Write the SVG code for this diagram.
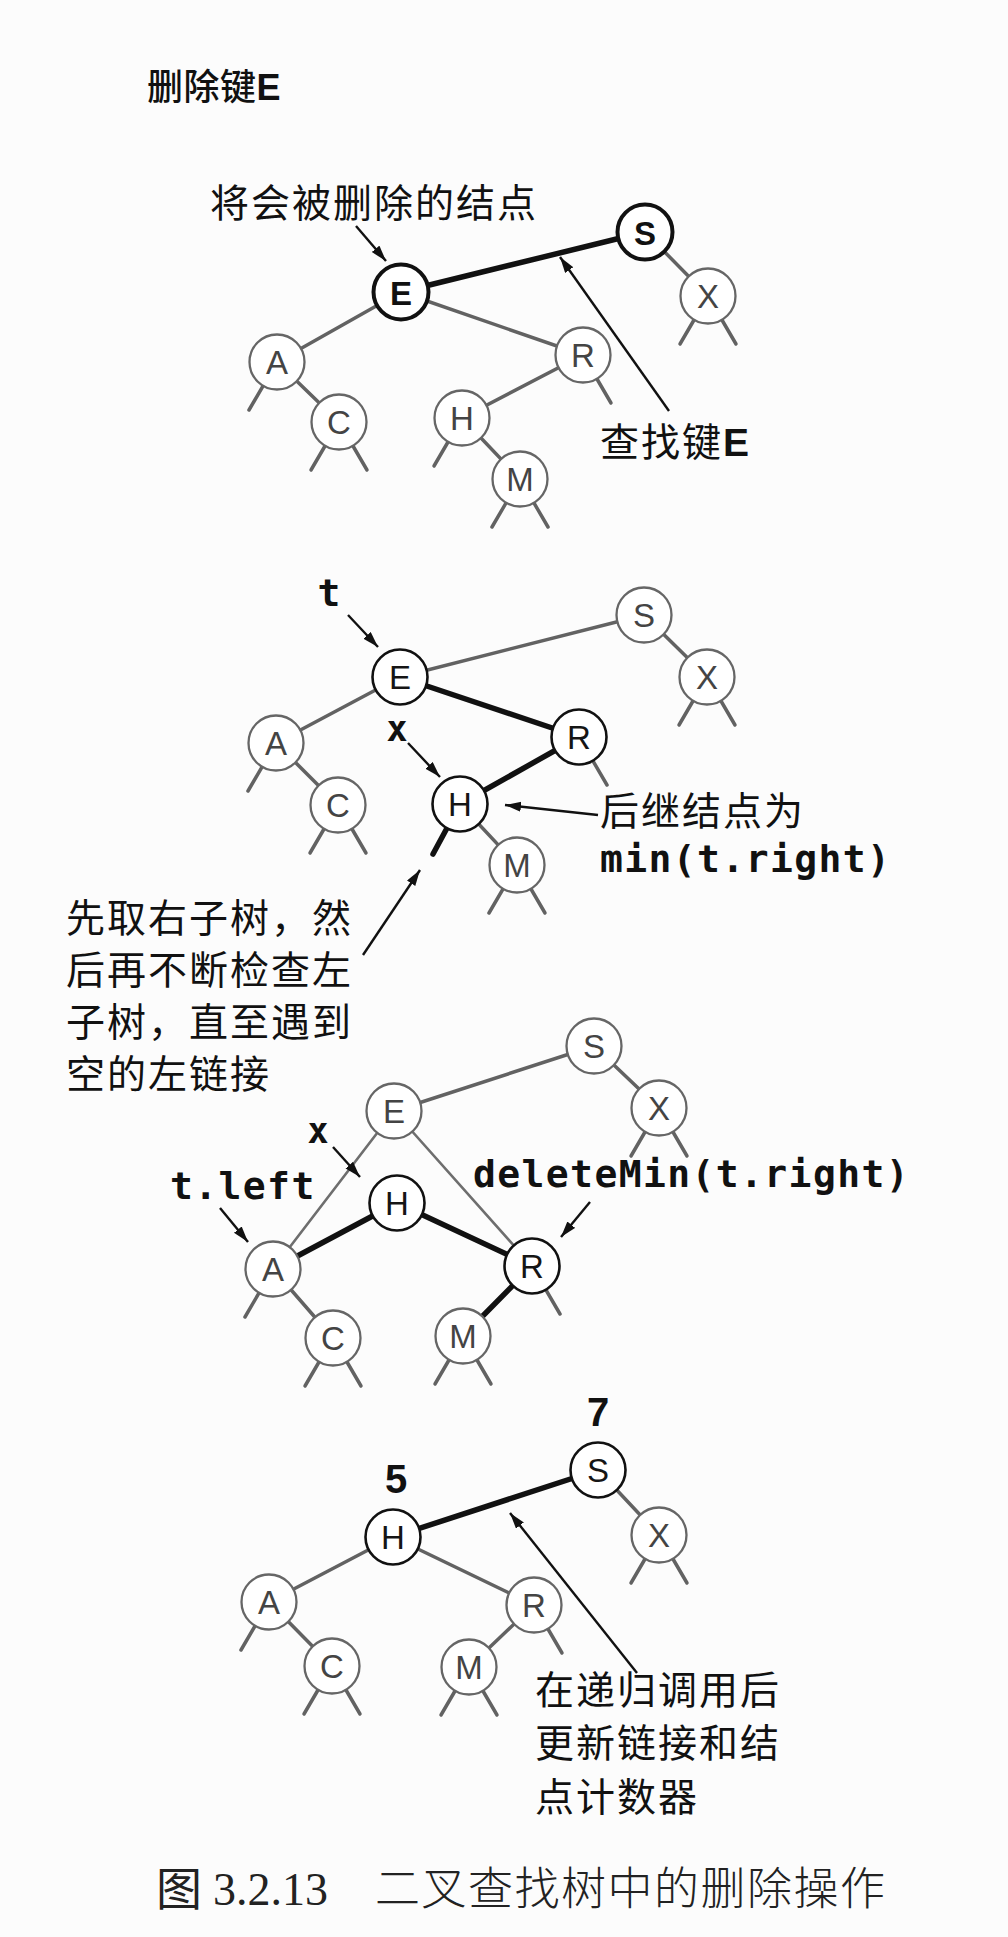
<svg xmlns="http://www.w3.org/2000/svg" width="1008" height="1937" viewBox="0 0 1008 1937">
<style>
.cjk{font-family:"Noto Sans CJK SC","Noto Sans",sans-serif;font-size:39px;letter-spacing:2px;fill:#111}
.mono{font-family:"DejaVu Sans Mono","Liberation Mono",monospace;font-weight:bold;font-size:38px;letter-spacing:1.4px;fill:#111}
.num{font-family:"Liberation Sans",Arial,sans-serif;font-weight:bold;font-size:40px;fill:#111;text-anchor:middle}
.bE{font-family:"Liberation Sans",Arial,sans-serif;font-weight:bold;letter-spacing:0}
.cap{font-family:"Liberation Serif","Noto Sans CJK SC",serif;font-size:46px;fill:#222}
.capc{font-family:"Noto Sans CJK SC",serif;font-weight:300;font-size:45px;letter-spacing:1.5px;fill:#222}
.g{stroke:#626262;stroke-width:3.5;stroke-linecap:round;fill:none}
.gt{stroke:#6e6e6e;stroke-width:2.6;stroke-linecap:round;fill:none}
.k{stroke:#111;stroke-width:5.5;stroke-linecap:round;fill:none}
.ar{stroke:#111;stroke-width:2.4;fill:none;marker-end:url(#ah)}
.ng circle{fill:#fff;stroke:#666;stroke-width:2.3}
.ng text{fill:#444}
.nk circle{fill:#fff;stroke:#111;stroke-width:2.6}
.nk text{fill:#151515}
.nb circle{fill:#fff;stroke:#111;stroke-width:4}
.nb text{fill:#111;font-weight:bold;font-size:36px}
.node text{font-family:"Liberation Sans",Arial,sans-serif;font-size:33px;text-anchor:middle}
</style>
<defs>
<marker id="ah" markerUnits="userSpaceOnUse" markerWidth="18" markerHeight="12" refX="16" refY="5" orient="auto">
<path d="M0,0 L16,5 L0,10 Z" fill="#111"/>
</marker>
</defs>
<rect width="1008" height="1937" fill="#fcfcfc"/>

<!-- ============ Panel 1 ============ -->
<text class="cjk" x="147" y="100" style="font-size:36px;letter-spacing:0.5px;font-weight:500">删除键<tspan class="bE">E</tspan></text>
<text class="cjk" x="210" y="217">将会被删除的结点</text>
<text class="cjk" x="600" y="456">查找键<tspan class="bE">E</tspan></text>

<g id="connectors-1">
<line class="k" x1="401" y1="292" x2="645" y2="232"/>
<line class="g" x1="401" y1="292" x2="277" y2="362"/>
<line class="g" x1="401" y1="292" x2="583" y2="355"/>
<line class="g" x1="277" y1="362" x2="339" y2="422"/>
<line class="g" x1="583" y1="355" x2="462" y2="418"/>
<line class="g" x1="462" y1="418" x2="520" y2="479"/>
<line class="g" x1="645" y1="232" x2="708" y2="296"/>
<line class="g" x1="277" y1="362" x2="249" y2="410"/>
<line class="g" x1="339" y1="422" x2="311" y2="470"/>
<line class="g" x1="339" y1="422" x2="367" y2="470"/>
<line class="g" x1="462" y1="418" x2="434" y2="466"/>
<line class="g" x1="583" y1="355" x2="611" y2="403"/>
<line class="g" x1="520" y1="479" x2="492" y2="527"/>
<line class="g" x1="520" y1="479" x2="548" y2="527"/>
<line class="g" x1="708" y1="296" x2="680" y2="344"/>
<line class="g" x1="708" y1="296" x2="736" y2="344"/>
<line class="ar" x1="356" y1="226" x2="386" y2="261"/>
<line class="ar" x1="669" y1="411" x2="560" y2="257"/>
</g>
<g id="p1-E" class="node nb"><circle cx="401" cy="292" r="27.5"/><text x="401" y="305">E</text></g>
<g id="p1-S" class="node nb"><circle cx="645" cy="232" r="27.5"/><text x="645" y="245">S</text></g>
<g id="p1-X" class="node ng"><circle cx="708" cy="296" r="27.5"/><text x="708" y="308">X</text></g>
<g id="p1-A" class="node ng"><circle cx="277" cy="362" r="27.5"/><text x="277" y="374">A</text></g>
<g id="p1-C" class="node ng"><circle cx="339" cy="422" r="27.5"/><text x="339" y="434">C</text></g>
<g id="p1-R" class="node ng"><circle cx="583" cy="355" r="27.5"/><text x="583" y="367">R</text></g>
<g id="p1-H" class="node ng"><circle cx="462" cy="418" r="27.5"/><text x="462" y="430">H</text></g>
<g id="p1-M" class="node ng"><circle cx="520" cy="479" r="27.5"/><text x="520" y="491">M</text></g>

<!-- ============ Panel 2 ============ -->
<text class="mono" x="329" y="606" text-anchor="middle" style="letter-spacing:0">t</text>
<text class="mono" x="397" y="741" text-anchor="middle" style="letter-spacing:0;font-size:35px">x</text>
<text class="cjk" x="600" y="825">后继结点为</text>
<text class="mono" x="600" y="872">min(t.right)</text>
<text class="cjk" x="66" y="932">先取右子树，然</text>
<text class="cjk" x="66" y="984">后再不断检查左</text>
<text class="cjk" x="66" y="1036">子树，直至遇到</text>
<text class="cjk" x="66" y="1088">空的左链接</text>

<g id="connectors-2">
<line class="g" x1="400" y1="677" x2="644" y2="615"/>
<line class="g" x1="400" y1="677" x2="276" y2="743"/>
<line class="k" x1="400" y1="677" x2="579" y2="737"/>
<line class="k" x1="579" y1="737" x2="460" y2="804"/>
<line class="g" x1="460" y1="804" x2="517" y2="865"/>
<line class="g" x1="276" y1="743" x2="338" y2="805"/>
<line class="g" x1="644" y1="615" x2="707" y2="677"/>
<line class="g" x1="276" y1="743" x2="248" y2="791"/>
<line class="g" x1="338" y1="805" x2="310" y2="853"/>
<line class="g" x1="338" y1="805" x2="366" y2="853"/>
<line class="k" x1="460" y1="804" x2="433" y2="854"/>
<line class="g" x1="579" y1="737" x2="607" y2="785"/>
<line class="g" x1="517" y1="865" x2="489" y2="913"/>
<line class="g" x1="517" y1="865" x2="545" y2="913"/>
<line class="g" x1="707" y1="677" x2="679" y2="725"/>
<line class="g" x1="707" y1="677" x2="735" y2="725"/>
<line class="ar" x1="348" y1="615" x2="378" y2="647"/>
<line class="ar" x1="408" y1="743" x2="440" y2="777"/>
<line class="ar" x1="598" y1="815" x2="505" y2="805"/>
<line class="ar" x1="363" y1="955" x2="420" y2="870"/>
</g>
<g id="p2-E" class="node nk"><circle cx="400" cy="677" r="27.5"/><text x="400" y="689">E</text></g>
<g id="p2-S" class="node ng"><circle cx="644" cy="615" r="27.5"/><text x="644" y="627">S</text></g>
<g id="p2-X" class="node ng"><circle cx="707" cy="677" r="27.5"/><text x="707" y="689">X</text></g>
<g id="p2-A" class="node ng"><circle cx="276" cy="743" r="27.5"/><text x="276" y="755">A</text></g>
<g id="p2-C" class="node ng"><circle cx="338" cy="805" r="27.5"/><text x="338" y="817">C</text></g>
<g id="p2-R" class="node nk"><circle cx="579" cy="737" r="27.5"/><text x="579" y="749">R</text></g>
<g id="p2-H" class="node nk"><circle cx="460" cy="804" r="27.5"/><text x="460" y="816">H</text></g>
<g id="p2-M" class="node ng"><circle cx="517" cy="865" r="27.5"/><text x="517" y="877">M</text></g>

<!-- ============ Panel 3 ============ -->
<text class="mono" x="318" y="1143" text-anchor="middle" style="letter-spacing:0;font-size:35px">x</text>
<text class="mono" x="170" y="1199">t.left</text>
<text class="mono" x="473" y="1187">deleteMin(t.right)</text>

<g id="connectors-3">
<line class="g" x1="394" y1="1111" x2="594" y2="1046"/>
<line class="gt" x1="394" y1="1111" x2="273" y2="1269"/>
<line class="gt" x1="394" y1="1111" x2="532" y2="1266"/>
<line class="k" x1="273" y1="1269" x2="397" y2="1203"/>
<line class="k" x1="397" y1="1203" x2="532" y2="1266"/>
<line class="k" x1="532" y1="1266" x2="463" y2="1336"/>
<line class="g" x1="273" y1="1269" x2="333" y2="1338"/>
<line class="g" x1="594" y1="1046" x2="659" y2="1108"/>
<line class="g" x1="273" y1="1269" x2="245" y2="1317"/>
<line class="g" x1="333" y1="1338" x2="305" y2="1386"/>
<line class="g" x1="333" y1="1338" x2="361" y2="1386"/>
<line class="g" x1="463" y1="1336" x2="435" y2="1384"/>
<line class="g" x1="463" y1="1336" x2="491" y2="1384"/>
<line class="g" x1="532" y1="1266" x2="560" y2="1314"/>
<line class="g" x1="659" y1="1108" x2="631" y2="1156"/>
<line class="g" x1="659" y1="1108" x2="687" y2="1156"/>
<line class="ar" x1="333" y1="1147" x2="360" y2="1177"/>
<line class="ar" x1="220" y1="1208" x2="248" y2="1242"/>
<line class="ar" x1="590" y1="1202" x2="561" y2="1237"/>
</g>
<g id="p3-S" class="node ng"><circle cx="594" cy="1046" r="27.5"/><text x="594" y="1058">S</text></g>
<g id="p3-X" class="node ng"><circle cx="659" cy="1108" r="27.5"/><text x="659" y="1120">X</text></g>
<g id="p3-E" class="node ng"><circle cx="394" cy="1111" r="27.5"/><text x="394" y="1123">E</text></g>
<g id="p3-H" class="node nk"><circle cx="397" cy="1203" r="27.5"/><text x="397" y="1215">H</text></g>
<g id="p3-A" class="node ng"><circle cx="273" cy="1269" r="27.5"/><text x="273" y="1281">A</text></g>
<g id="p3-R" class="node nk"><circle cx="532" cy="1266" r="27.5"/><text x="532" y="1278">R</text></g>
<g id="p3-C" class="node ng"><circle cx="333" cy="1338" r="27.5"/><text x="333" y="1350">C</text></g>
<g id="p3-M" class="node ng"><circle cx="463" cy="1336" r="27.5"/><text x="463" y="1348">M</text></g>

<!-- ============ Panel 4 ============ -->
<text class="num" x="598" y="1426">7</text>
<text class="num" x="396" y="1493">5</text>
<text class="cjk" x="535" y="1704">在递归调用后</text>
<text class="cjk" x="535" y="1757">更新链接和结</text>
<text class="cjk" x="535" y="1811">点计数器</text>

<g id="connectors-4">
<line class="k" x1="393" y1="1537" x2="598" y2="1470"/>
<line class="g" x1="393" y1="1537" x2="269" y2="1602"/>
<line class="g" x1="393" y1="1537" x2="534" y2="1605"/>
<line class="g" x1="269" y1="1602" x2="332" y2="1666"/>
<line class="g" x1="534" y1="1605" x2="469" y2="1667"/>
<line class="g" x1="598" y1="1470" x2="659" y2="1535"/>
<line class="g" x1="269" y1="1602" x2="241" y2="1650"/>
<line class="g" x1="332" y1="1666" x2="304" y2="1714"/>
<line class="g" x1="332" y1="1666" x2="360" y2="1714"/>
<line class="g" x1="469" y1="1667" x2="441" y2="1715"/>
<line class="g" x1="469" y1="1667" x2="497" y2="1715"/>
<line class="g" x1="534" y1="1605" x2="562" y2="1653"/>
<line class="g" x1="659" y1="1535" x2="631" y2="1583"/>
<line class="g" x1="659" y1="1535" x2="687" y2="1583"/>
<line class="ar" x1="637" y1="1673" x2="510" y2="1513"/>
</g>
<g id="p4-H" class="node nk"><circle cx="393" cy="1537" r="27.5"/><text x="393" y="1549">H</text></g>
<g id="p4-S" class="node nk"><circle cx="598" cy="1470" r="27.5"/><text x="598" y="1482">S</text></g>
<g id="p4-X" class="node ng"><circle cx="659" cy="1535" r="27.5"/><text x="659" y="1547">X</text></g>
<g id="p4-A" class="node ng"><circle cx="269" cy="1602" r="27.5"/><text x="269" y="1614">A</text></g>
<g id="p4-C" class="node ng"><circle cx="332" cy="1666" r="27.5"/><text x="332" y="1678">C</text></g>
<g id="p4-R" class="node ng"><circle cx="534" cy="1605" r="27.5"/><text x="534" y="1617">R</text></g>
<g id="p4-M" class="node ng"><circle cx="469" cy="1667" r="27.5"/><text x="469" y="1679">M</text></g>

<!-- caption -->
<text class="cap" x="156" y="1905">图</text>
<text class="cap" x="213" y="1905">3.2.13</text>
<text class="capc" x="375" y="1905">二叉查找树中的删除操作</text>
</svg>
